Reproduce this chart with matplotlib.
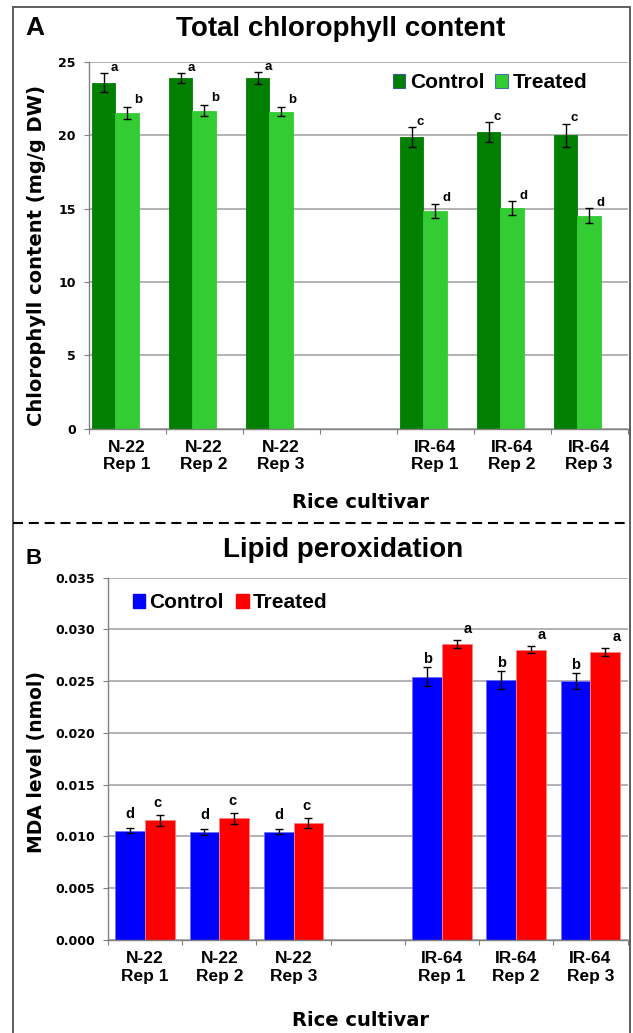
import numpy as np
import matplotlib
matplotlib.use('Agg')
import matplotlib.pyplot as plt
from matplotlib.patches import Patch, Rectangle
from matplotlib.lines import Line2D

# ------------------------------------------------------
#  Data (blank slot = gap between cultivars)
# ------------------------------------------------------
cultivars = ['N-22\nRep 1', 'N-22\nRep 2', 'N-22\nRep 3', '',
             'IR-64\nRep 1', 'IR-64\nRep 2', 'IR-64\nRep 3']

# Total chlorophyll content (mg/g DW)
chl_control = [23.60, 23.88, 23.88, np.nan, 19.88, 20.21, 20.00]
chl_control_err = [0.64, 0.34, 0.41, np.nan, 0.70, 0.70, 0.80]
chl_treated = [21.49, 21.69, 21.62, np.nan, 14.82, 15.02, 14.50]
chl_treated_err = [0.41, 0.37, 0.30, np.nan, 0.48, 0.47, 0.51]
chl_control_sig = ['a', 'a', 'a', '', 'c', 'c', 'c']
chl_treated_sig = ['b', 'b', 'b', '', 'd', 'd', 'd']

# Lipid peroxidation, MDA level (nmol)
mda_control = [0.01056, 0.01046, 0.01046, np.nan, 0.02541, 0.02512, 0.02499]
mda_control_err = [0.00026, 0.00030, 0.00025, np.nan, 0.00092, 0.00084, 0.00077]
mda_treated = [0.01156, 0.01175, 0.01130, np.nan, 0.02860, 0.02805, 0.02782]
mda_treated_err = [0.00053, 0.00053, 0.00050, np.nan, 0.00042, 0.00037, 0.00042]
mda_control_sig = ['d', 'd', 'd', '', 'b', 'b', 'b']
mda_treated_sig = ['c', 'c', 'c', '', 'a', 'a', 'a']

W, H = 633, 1033
ARIAL = 'Liberation Sans'
WIDE = 'DejaVu Sans'


def fx(px):
    return px / W


def fy(py):
    return 1 - py / H


def style_axes(ax, yticks, fmt):
    ax.set_xlim(0, len(cultivars))
    ax.set_ylim(yticks[0], yticks[-1])
    ax.set_yticks(yticks)
    ax.set_yticklabels([fmt % t for t in yticks], fontfamily=WIDE,
                       fontweight='bold', fontsize=9)
    ax.set_xticks(np.arange(len(cultivars) + 1))
    ax.set_xticklabels([])
    ax.set_xticks(np.arange(len(cultivars)) + 0.5, minor=True)
    ax.set_xticklabels(cultivars, minor=True, fontfamily=ARIAL,
                       fontweight='bold', fontsize=12.5)
    ax.tick_params(axis='x', which='major', length=3.6, color='#808080')
    ax.tick_params(axis='x', which='minor', length=0, pad=8)
    ax.tick_params(axis='y', length=3.6, color='#808080', pad=5.5)
    for s in ['top', 'right']:
        ax.spines[s].set_visible(False)
    for s in ['left', 'bottom']:
        ax.spines[s].set_color('#808080')
        ax.spines[s].set_linewidth(1)
    ax.grid(axis='y', color='#a6a6a6', linewidth=1.2)
    ax.set_axisbelow(True)


def draw_pair(ax, vals, errs, sigs, offs, width, color, edge, fs, dx, dy):
    vals = np.array(vals)
    errs = np.array(errs)
    ok = ~np.isnan(vals)
    xs = np.arange(len(cultivars))[ok] + offs
    ax.bar(xs, vals[ok], width, color=color, edgecolor=edge, linewidth=0.6,
           yerr=errs[ok], error_kw=dict(ecolor='black', elinewidth=1,
                                        capsize=2.8, capthick=1), zorder=2)
    for x, v, e, s in zip(xs, vals[ok], errs[ok], np.array(sigs)[ok]):
        ax.annotate(s, (x + dx.get(s, 0), v + e), xytext=(0, dy.get(s, 2)),
                    textcoords='offset points', ha='center', va='baseline',
                    fontsize=fs, fontweight='bold', fontfamily=ARIAL)


fig = plt.figure(figsize=(W / 100, H / 100), dpi=100)

# ------------------------------------------------------
#  A: Total chlorophyll content
# ------------------------------------------------------
ax1 = fig.add_axes([fx(88.5), fy(428.5), fx(627.5) - fx(88.5), (428.5 - 62) / H])
style_axes(ax1, [0, 5, 10, 15, 20, 25], '%d')
draw_pair(ax1, chl_control, chl_control_err, chl_control_sig, 0.2, 0.3,
          '#007f00', '#007f00', 9.5, {'a': 0.13, 'c': 0.11}, {'a': 1.5, 'c': 1.5})
draw_pair(ax1, chl_treated, chl_treated_err, chl_treated_sig, 0.5, 0.3,
          '#33cc33', '#33cc33', 9.5, {'b': 0.15, 'd': 0.15}, {'b': 3, 'd': 2})

leg_prop = {'family': ARIAL, 'weight': 'bold', 'size': 15}
ax1.legend([Patch(facecolor='#007f00', edgecolor='#3d5a8a', linewidth=0.8),
            Patch(facecolor='#33cc33', edgecolor='#4a6fb0', linewidth=0.8)],
           ['Control', 'Treated'], ncol=2, loc='center',
           bbox_to_anchor=(fx(490), fy(83)), bbox_transform=fig.transFigure,
           frameon=False, prop=leg_prop, handlelength=0.6, handleheight=0.65,
           handletextpad=0.25, columnspacing=0.5, borderpad=0, borderaxespad=0)

fig.text(fx(35), fy(28), 'A', fontsize=19, fontweight='bold', fontfamily=ARIAL,
         ha='center', va='center')
fig.text(fx(341), fy(29), 'Total chlorophyll content', fontsize=20,
         fontweight='bold', fontfamily=ARIAL, ha='center', va='center')
fig.text(fx(37), fy(256), 'Chlorophyll content (mg/g DW)', rotation=90,
         fontsize=14, fontweight='bold', fontfamily=WIDE, ha='center', va='center')
fig.text(fx(360), fy(503), 'Rice cultivar', fontsize=14, fontweight='bold',
         fontfamily=WIDE, ha='center', va='center')

# ------------------------------------------------------
#  B: Lipid peroxidation
# ------------------------------------------------------
ax2 = fig.add_axes([fx(108), fy(940), fx(627.5) - fx(108), (940 - 577.7) / H])
style_axes(ax2, [0, 0.005, 0.010, 0.015, 0.020, 0.025, 0.030, 0.035], '%.3f')
draw_pair(ax2, mda_control, mda_control_err, mda_control_sig, 0.3, 0.4,
          '#0000ff', '#7070ff', 10.5, {}, {'d': 7, 'b': 3})
draw_pair(ax2, mda_treated, mda_treated_err, mda_treated_sig, 0.7, 0.4,
          '#ff0000', '#ff8080', 10.5, {'a': 0.15, 'c': -0.03}, {'c': 5.8, 'a': 5})

ax2.legend([Patch(facecolor='#0000ff', edgecolor='#0000ff'),
            Patch(facecolor='#ff0000', edgecolor='#ff0000')],
           ['Control', 'Treated'], ncol=2, loc='center',
           bbox_to_anchor=(fx(230), fy(603)), bbox_transform=fig.transFigure,
           frameon=False, prop=leg_prop, handlelength=0.6, handleheight=0.65,
           handletextpad=0.2, columnspacing=0.6, borderpad=0, borderaxespad=0)

fig.text(fx(34), fy(558), 'B', fontsize=16, fontweight='bold', fontfamily=ARIAL,
         ha='center', va='center')
fig.text(fx(343), fy(550), 'Lipid peroxidation', fontsize=20,
         fontweight='bold', fontfamily=ARIAL, ha='center', va='center')
fig.text(fx(37), fy(762), 'MDA level (nmol)', rotation=90, fontsize=13.5,
         fontweight='bold', fontfamily=WIDE, ha='center', va='center')
fig.text(fx(360), fy(1020), 'Rice cultivar', fontsize=14, fontweight='bold',
         fontfamily=WIDE, ha='center', va='center')

# outer frame (open at the bottom) and dashed separator
fig.patches.append(Rectangle((fx(12.5), -0.02), fx(629.5) - fx(12.5), fy(6.5) + 0.02,
                             transform=fig.transFigure, fill=False,
                             edgecolor='#505050', linewidth=1.3))
fig.add_artist(Line2D([fx(13), fx(629)], [fy(522.7), fy(522.7)],
                      transform=fig.transFigure, color='black', linewidth=1.5,
                      dashes=(4.8, 2.8)))

fig.savefig('out.png', dpi=100)
